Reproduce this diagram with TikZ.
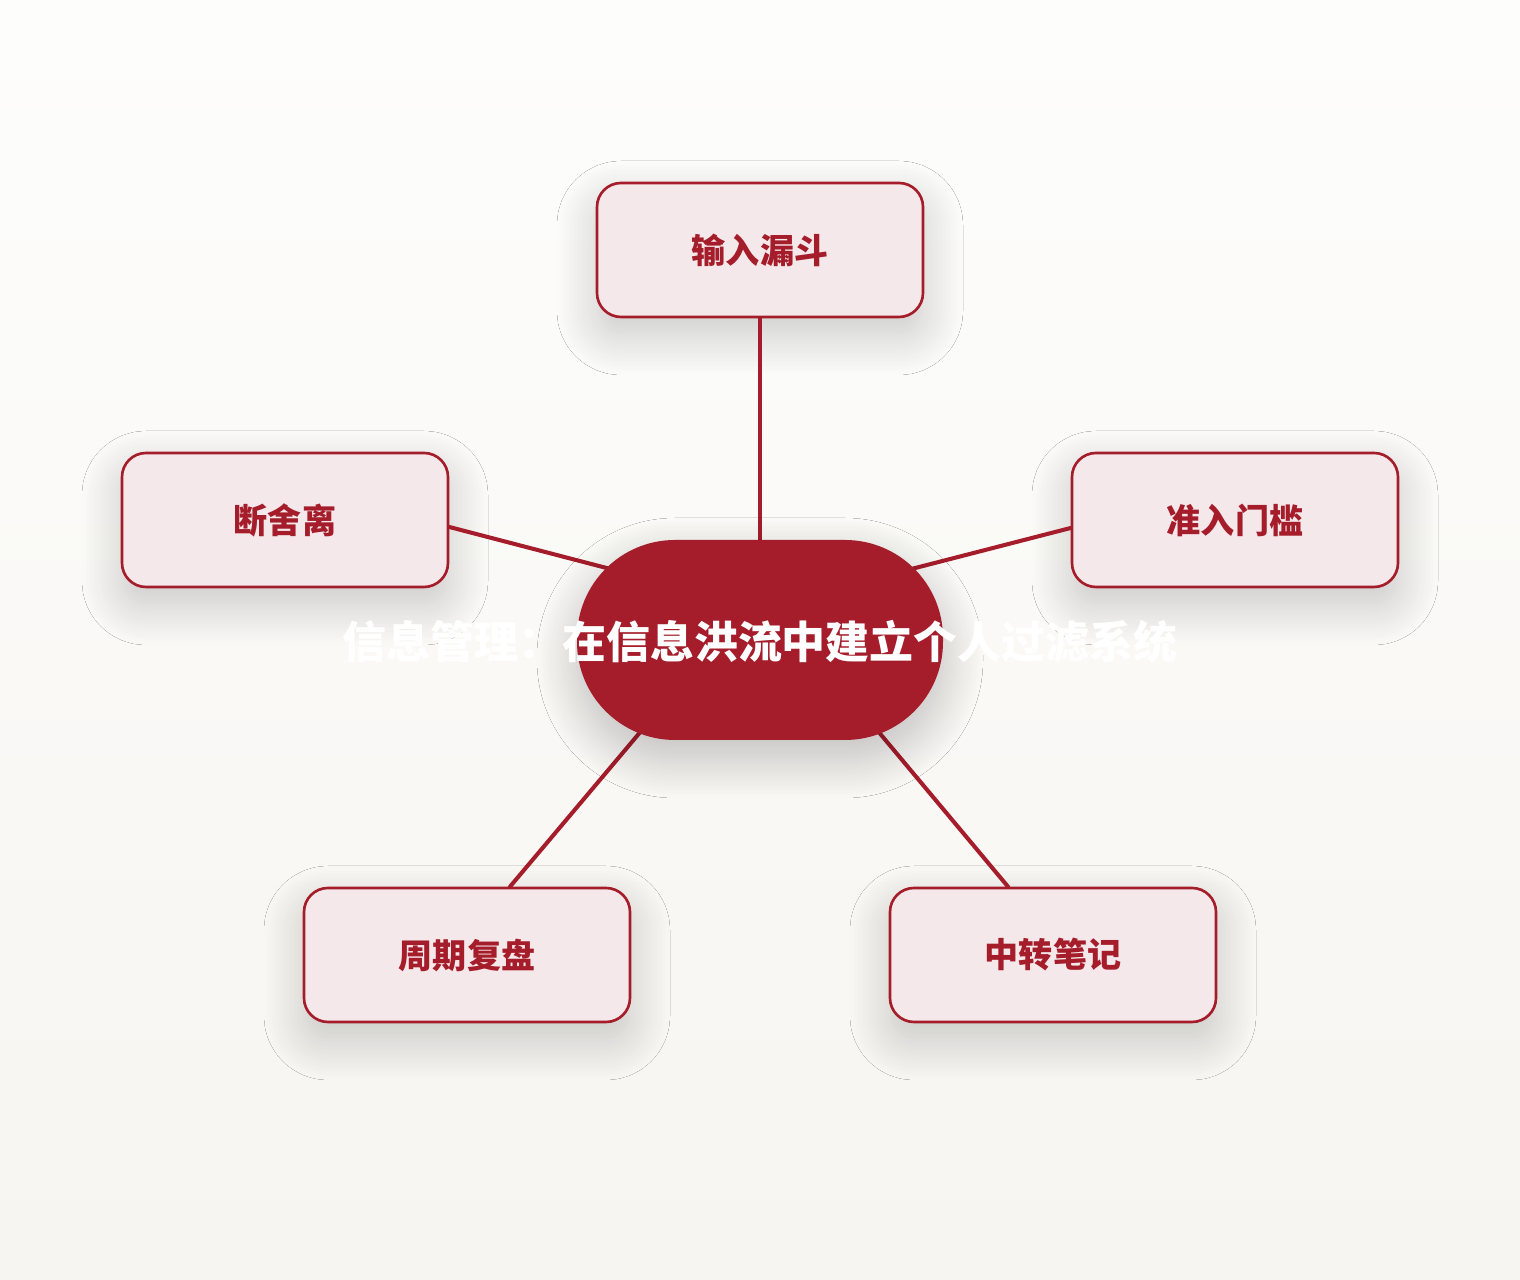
\documentclass[tikz,border=0pt]{standalone}
\usepackage{fontspec}
\newfontfamily\cjk{Noto Sans CJK SC}
\usepackage{tikz}
\usetikzlibrary{calc}
\usetikzlibrary{shadows.blur}
\definecolor{deepred}{HTML}{A51C2A}
\definecolor{blush}{HTML}{F5E8EA}
\definecolor{paperhi}{HTML}{FDFDFC}
\definecolor{paperlo}{HTML}{F7F5F1}
\tikzset{
    soft shadow/.style={blur shadow={shadow xshift=0cm, shadow yshift=-0.18cm, shadow blur radius=0.4cm,
      shadow blur steps=16, shadow opacity=#1}},
    soft shadow/.default={20},
    topic/.style={draw=deepred, line width=0.75pt, fill=blush, rounded corners=0.24cm,
      minimum width=3.26cm, minimum height=1.34cm, inner sep=0pt,
      font=\cjk\bfseries\fontsize{9.7pt}{11pt}\selectfont, text=deepred, soft shadow},
    hub/.style={fill=deepred, rounded corners=0.98cm, minimum width=3.66cm, minimum height=2cm, inner sep=0pt,
      soft shadow=24},
    link/.style={draw=deepred, line width=1.15pt, line cap=round}}

\begin{document}
\begin{tikzpicture}
% background
\shade[top color=paperhi, bottom color=paperlo] (0,0) rectangle (15.2,-12.8);
\useasboundingbox (0,0) rectangle (15.2,-12.8);

\coordinate (Ctr) at (7.60,-6.40) ;
\coordinate (Hs) at (7.60,-6.08) ;
\coordinate (Hb) at (7.60,-5.90) ;

\node[topic] (funnel) at (7.60,-2.50) {输入漏斗};
\node[topic] (declutter) at (2.85,-5.20) {断舍离};
\node[topic] (gate) at (12.35,-5.20) {准入门槛};
\node[topic] (review) at (4.67,-9.55) {周期复盘};
\node[topic] (transit) at (10.53,-9.55) {中转笔记};

% connectors, under the hub
\draw[link] (funnel.south) -- (Ctr);
\draw[link] ([yshift=-0.07cm]declutter.east) -- (Hs);
\draw[link] ([yshift=-0.08cm]gate.west) -- (Hs);
\draw[link] ([xshift=0.43cm]review.north) -- (Hb);
\draw[link] ([xshift=-0.45cm]transit.north) -- (Hb);

\node[hub] (core) at (Ctr) {};
\node[text=white, font=\cjk\bfseries\fontsize{12.5pt}{14pt}\selectfont] (title) at ($(Ctr)+(0,-0.02)$) {信息管理：在信息洪流中建立个人过滤系统};
\end{tikzpicture}
\end{document}
